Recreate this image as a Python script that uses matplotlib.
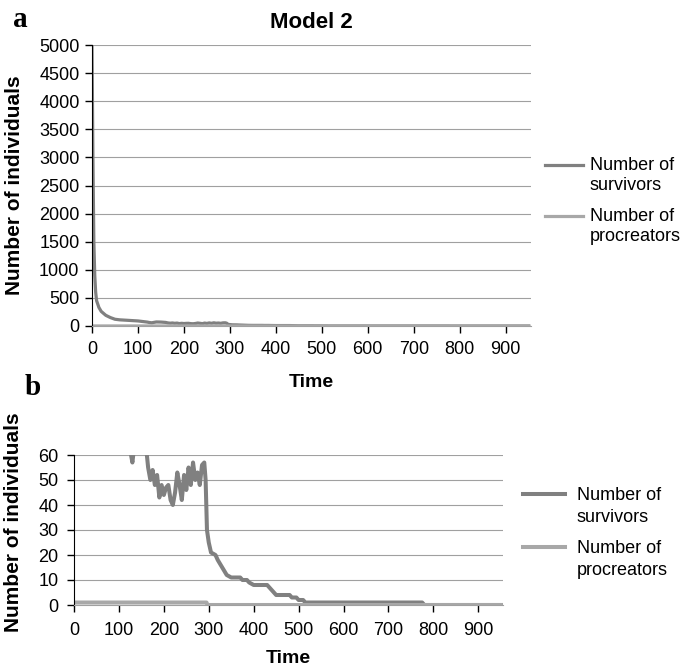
import matplotlib
matplotlib.use('Agg')
import matplotlib.pyplot as plt
from matplotlib.ticker import MultipleLocator
from matplotlib.legend_handler import HandlerLine2D

# survivors over time
surv_t = [0, 2, 4, 6, 8, 10, 15, 20, 30, 40, 50, 60, 80, 100, 110, 120, 125, 130, 135,
          140, 150, 160, 165, 170, 175, 180, 185, 190, 195, 200, 205, 210, 215, 220,
          225, 230, 235, 240, 245, 250, 255, 260, 265, 270, 275, 280, 285, 290, 293,
          296, 300, 305, 315, 320, 330, 340, 350, 370, 375, 385, 390, 400, 430, 435,
          440, 450, 480, 485, 495, 500, 510, 515, 775, 780, 950]
surv_n = [5000, 3000, 1500, 900, 600, 450, 330, 260, 190, 150, 120, 110, 100, 90, 80, 70, 62, 57, 65,
          72, 70, 64, 55, 50, 54, 48, 52, 43, 48, 44, 47, 48, 42, 40,
          45, 53, 48, 42, 52, 46, 55, 48, 57, 50, 53, 48, 56, 57, 50,
          30, 25, 21, 20, 18, 15, 12, 11, 11, 10, 10, 9, 8, 8, 7,
          6, 4, 4, 3, 3, 2, 2, 1, 1, 0, 0]

# procreators over time
proc_t = [0, 295, 297, 950]
proc_n = [1, 1, 0, 0]

x_ticks = list(range(0, 1000, 100))
labels = ['Number of\nsurvivors', 'Number of\nprocreators']
c_surv = '#808080'
c_proc = '#a8a8a8'

plt.rcParams['font.family'] = ['Liberation Sans', 'DejaVu Sans']


# legend key sits next to the first line of a two-line label
class FirstLineHandler(HandlerLine2D):
    def __init__(self, shift, **kw):
        super().__init__(**kw)
        self.shift = shift

    def create_artists(self, legend, orig_handle, xdescent, ydescent, width, height, fontsize, trans):
        arts = super().create_artists(legend, orig_handle, xdescent, ydescent, width, height, fontsize, trans)
        for a in arts:
            a.set_ydata([y + self.shift for y in a.get_ydata()])
        return arts


fig = plt.figure(figsize=(6.83, 6.68), dpi=100)
ax1 = fig.add_axes([92 / 683, 1 - 326 / 668, 439 / 683, 281 / 668])
ax2 = fig.add_axes([74 / 683, 1 - 605 / 668, 429 / 683, 150 / 668])

panels = [
    # ax, ymax, ystep, lw, xpad, ypad, labelpad, legend anchor, handlelen, textpad, spacing, shift, linespacing
    (ax1, 5000, 500, 2.3, 5.5, 4, 12, (545 / 683, 1 - 201 / 668), 2.1, 0.39, 0.8, 7.8, 1.2),
    (ax2, 60, 10, 2.9, 7, 6, 8, (523 / 683, 1 - 533 / 668), 2.33, 0.65, 0.75, 9.0, 1.4),
]

for ax, ymax, ystep, lw, xpad, ypad, lpad, anchor, hl, htp, ls, shift, lsp in panels:
    l1, = ax.plot(surv_t, surv_n, color=c_surv, lw=lw, label=labels[0], solid_joinstyle='round')
    l2, = ax.plot(proc_t, proc_n, color=c_proc, lw=lw, label=labels[1])
    ax.set_xlim(0, 955)
    ax.set_ylim(0, ymax)
    ax.yaxis.set_major_locator(MultipleLocator(ystep))
    ax.set_xticks(x_ticks)
    ax.grid(axis='y', color='#a0a0a0', lw=0.8)
    ax.set_axisbelow(True)
    for s in ['top', 'right']:
        ax.spines[s].set_visible(False)
    ax.spines['bottom'].set_color('#a0a0a0')
    ax.spines['left'].set_color('black')
    ax.tick_params(axis='both', direction='out', length=5, width=1, colors='black', labelsize=13)
    ax.tick_params(axis='x', pad=xpad)
    ax.tick_params(axis='y', pad=ypad)
    ax.set_xlabel('Time', fontsize=14, fontweight='bold', labelpad=lpad)
    ax.set_ylabel('Number of individuals', fontsize=15, fontweight='bold')
    h = FirstLineHandler(shift)
    leg = ax.legend(loc='center left', bbox_to_anchor=anchor, bbox_transform=fig.transFigure,
                    frameon=False, fontsize=13, borderpad=0, borderaxespad=0,
                    handlelength=hl, handletextpad=htp, labelspacing=ls,
                    handler_map={l1: h, l2: h})
    for t in leg.get_texts():
        t.set_linespacing(lsp)

ax1.set_title('Model 2', fontsize=16, fontweight='bold', pad=12)
ax1.yaxis.set_label_coords(-0.155, 0.5)
ax2.yaxis.set_label_coords(-0.118, 0.55)

fig.text(13 / 683, 1 - 27 / 668, 'a', fontsize=21, fontweight='bold', family='Liberation Serif', va='baseline')
fig.text(25 / 683, 1 - 395 / 668, 'b', fontsize=21, fontweight='bold', family='Liberation Serif', va='baseline')

fig.savefig('out.png', dpi=100)
